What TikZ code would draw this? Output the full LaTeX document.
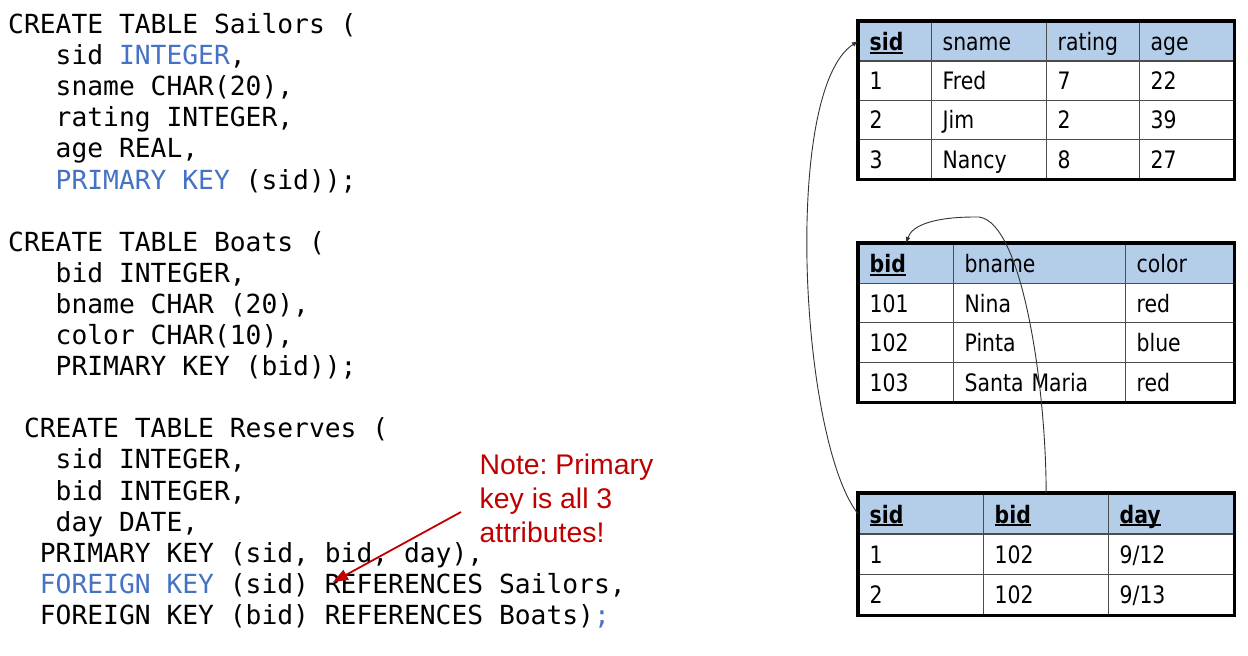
\documentclass[tikz,border=0pt]{standalone}
\usepackage{fontspec}
\setmonofont{DejaVu Sans Mono}
\newfontfamily\tabfont[FakeStretch=0.85]{DejaVu Sans}
\newfontfamily\notefont{Liberation Sans}
\usetikzlibrary{arrows.meta}
\definecolor{kwblue}{HTML}{4472C4}
\definecolor{notered}{HTML}{C00000}
\definecolor{hdrblue}{RGB}{180,206,234}
\newcommand\kw[1]{\textcolor{kwblue}{#1}}
\newcommand\keyu[1]{\setbox0\hbox{#1}\rlap{\rule[-3.2pt]{\wd0}{1.9pt}}\box0}
\newcommand\tcell[7]{\node[cell,#6,minimum width=#4pt,text width=#4pt,minimum height=#5pt] (#1) at (#2,#3) {\hspace*{11pt}#7};}
\tikzset{
  codeline/.style={anchor=base west, inner sep=0pt, font=\ttfamily\fontsize{26.3}{31}\selectfont},
  noteline/.style={anchor=base west, inner sep=0pt, text=notered, font=\notefont\fontsize{28.4}{34}\selectfont},
  cell/.style={draw=black!70, line width=1.3pt, anchor=north west, inner sep=0pt, text height=21.7pt, text depth=3.3pt, align=left, font=\tabfont\fontsize{24}{28}\selectfont},
  hdr/.style={fill=hdrblue},
  body/.style={fill=white},
  outer/.style={draw=black, line width=3.2pt},
  conn/.style={draw=black!80, line width=0.9pt, -{Latex[length=6pt,width=5pt]}},
  notearrow/.style={draw=notered, line width=1.8pt, -{Triangle[length=15pt,width=11pt]}}
}
\begin{document}
\frenchspacing
\begin{tikzpicture}[x=1pt,y=-1pt]
\useasboundingbox[fill=white] (0,0) rectangle (1248,656);
% ---------- SQL code ----------
\node[codeline] (c0)  at (8,33.5)      {CREATE TABLE Sailors (};
\node[codeline] (c1)  at (55.49,64.6)  {sid \kw{INTEGER},};
\node[codeline] (c2)  at (55.49,95.7)  {sname CHAR(20),};
\node[codeline] (c3)  at (55.49,126.8) {rating INTEGER,};
\node[codeline] (c4)  at (55.49,157.9) {age REAL,};
\node[codeline] (c5)  at (55.49,189.0) {\kw{PRIMARY KEY} (sid));};
\node[codeline] (c7)  at (8,251.2)     {CREATE TABLE Boats (};
\node[codeline] (c8)  at (55.49,282.3) {bid INTEGER,};
\node[codeline] (c9)  at (55.49,313.4) {bname CHAR (20),};
\node[codeline] (c10) at (55.49,344.5) {color CHAR(10),};
\node[codeline] (c11) at (55.49,375.6) {PRIMARY KEY (bid));};
\node[codeline] (c13) at (23.83,437.8) {CREATE TABLE Reserves (};
\node[codeline] (c14) at (55.49,468.9) {sid INTEGER,};
\node[codeline] (c15) at (55.49,500.0) {bid INTEGER,};
\node[codeline] (c16) at (55.49,531.1) {day DATE,};
\node[codeline] (c17) at (39.66,562.2) {PRIMARY KEY (sid, bid, day),};
\node[codeline] (c18) at (39.66,593.3) {\kw{FOREIGN KEY} (sid) REFERENCES Sailors,};
\node[codeline] (c19) at (39.66,624.4) {FOREIGN KEY (bid) REFERENCES Boats)\kw{;}};
% ---------- note ----------
\node[noteline] (n1) at (479.5,474.5) {Note: Primary};
\node[noteline] (n2) at (479.5,508.5) {key is all 3};
\node[noteline] (n3) at (479.5,542.5) {attributes!};
\coordinate (na) at (461,512);
\coordinate (nb) at (333,582);
\draw[notearrow] (na) -- (nb);
% ---------- Sailors table ----------
\tcell{s00}{858}{21}{73}{39.25}{hdr}{\textbf{\keyu{sid}}}
\tcell{s01}{931}{21}{115}{39.25}{hdr}{sname}
\tcell{s02}{1046}{21}{93}{39.25}{hdr}{rating}
\tcell{s03}{1139}{21}{94}{39.25}{hdr}{age}
\tcell{s10}{858}{60.25}{73}{39.25}{body}{1}
\tcell{s11}{931}{60.25}{115}{39.25}{body}{Fred}
\tcell{s12}{1046}{60.25}{93}{39.25}{body}{7}
\tcell{s13}{1139}{60.25}{94}{39.25}{body}{22}
\tcell{s20}{858}{99.5}{73}{39.25}{body}{2}
\tcell{s21}{931}{99.5}{115}{39.25}{body}{Jim}
\tcell{s22}{1046}{99.5}{93}{39.25}{body}{2}
\tcell{s23}{1139}{99.5}{94}{39.25}{body}{39}
\tcell{s30}{858}{138.75}{73}{39.25}{body}{3}
\tcell{s31}{931}{138.75}{115}{39.25}{body}{Nancy}
\tcell{s32}{1046}{138.75}{93}{39.25}{body}{8}
\tcell{s33}{1139}{138.75}{94}{39.25}{body}{27}
\draw[outer] (s00.north west) rectangle (s33.south east);
% ---------- Boats table ----------
\tcell{b00}{858}{243}{95}{39.5}{hdr}{\textbf{\keyu{bid}}}
\tcell{b01}{953}{243}{172}{39.5}{hdr}{bname}
\tcell{b02}{1125}{243}{108}{39.5}{hdr}{color}
\tcell{b10}{858}{282.5}{95}{39.5}{body}{101}
\tcell{b11}{953}{282.5}{172}{39.5}{body}{Nina}
\tcell{b12}{1125}{282.5}{108}{39.5}{body}{red}
\tcell{b20}{858}{322}{95}{39.5}{body}{102}
\tcell{b21}{953}{322}{172}{39.5}{body}{Pinta}
\tcell{b22}{1125}{322}{108}{39.5}{body}{blue}
\tcell{b30}{858}{361.5}{95}{39.5}{body}{103}
\tcell{b31}{953}{361.5}{172}{39.5}{body}{Santa Maria}
\tcell{b32}{1125}{361.5}{108}{39.5}{body}{red}
\draw[outer] (b00.north west) rectangle (b32.south east);
% ---------- Reserves table ----------
\tcell{r00}{858}{493}{125}{40.33}{hdr}{\textbf{\keyu{sid}}}
\tcell{r01}{983}{493}{125}{40.33}{hdr}{\textbf{\keyu{bid}}}
\tcell{r02}{1108}{493}{125}{40.33}{hdr}{\textbf{\keyu{day}}}
\tcell{r10}{858}{533.33}{125}{40.33}{body}{1}
\tcell{r11}{983}{533.33}{125}{40.33}{body}{102}
\tcell{r12}{1108}{533.33}{125}{40.33}{body}{9/12}
\tcell{r20}{858}{573.67}{125}{40.33}{body}{2}
\tcell{r21}{983}{573.67}{125}{40.33}{body}{102}
\tcell{r22}{1108}{573.67}{125}{40.33}{body}{9/13}
\draw[outer] (r00.north west) rectangle (r22.south east);
% ---------- foreign key connectors ----------
\draw[conn] (r00.west) .. controls (800,440) and (782,90) .. (s00.west);
\draw[conn] (r01.north) .. controls (1046,380) and (1020,212) .. (975,217)
            .. controls (935,217) and (912,225) .. (b00.north);
\end{tikzpicture}
\end{document}
